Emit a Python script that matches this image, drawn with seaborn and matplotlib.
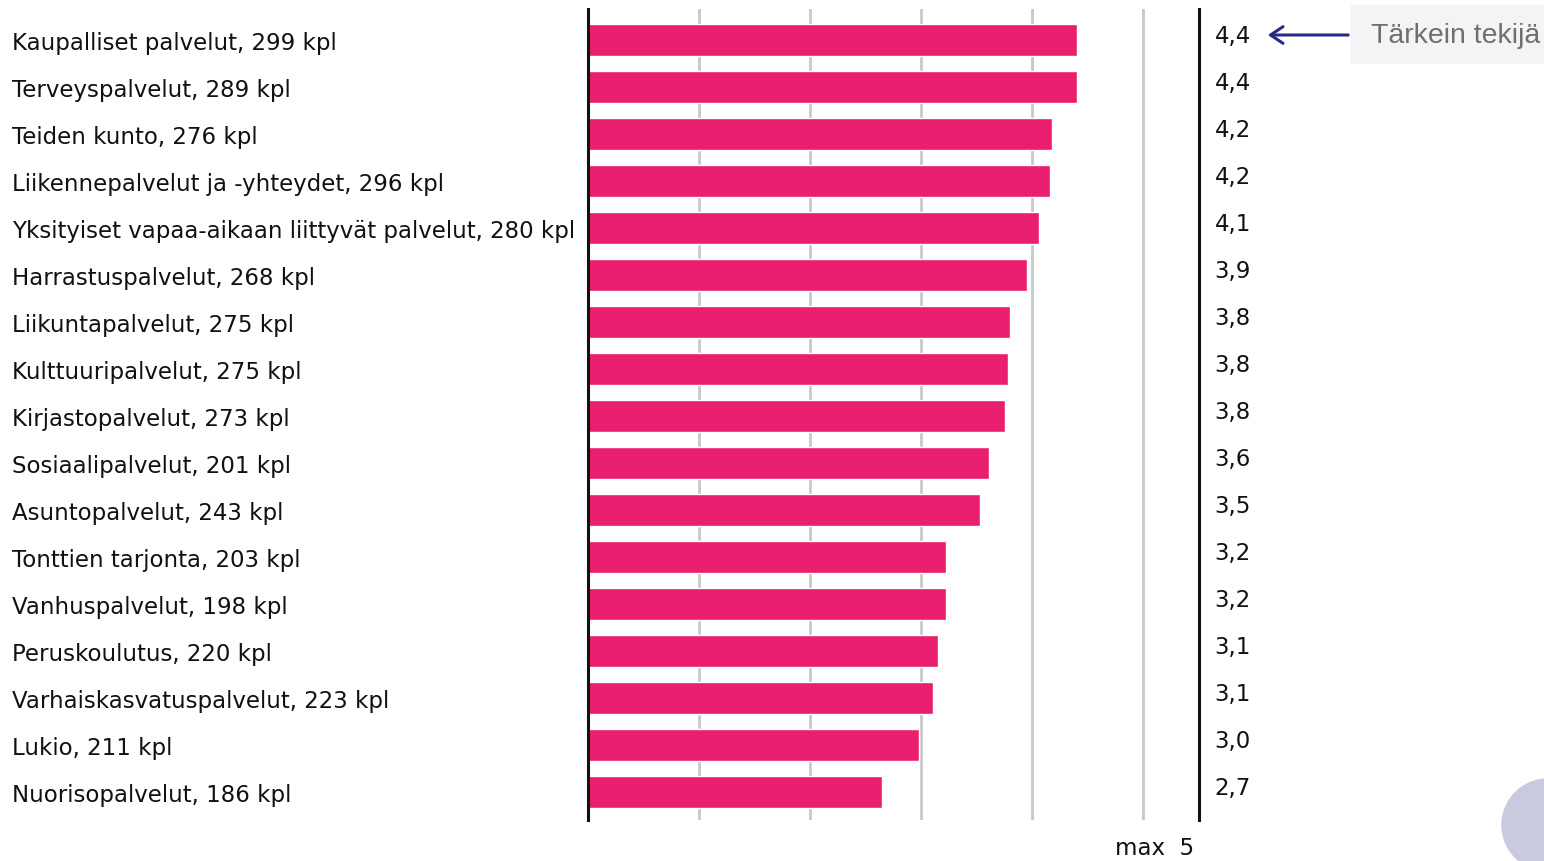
import matplotlib
matplotlib.use("Agg")
import matplotlib.pyplot as plt
import seaborn as sns
from matplotlib.patches import Rectangle, Ellipse, FancyArrowPatch

categories = [
    "Kaupalliset palvelut, 299 kpl",
    "Terveyspalvelut, 289 kpl",
    "Teiden kunto, 276 kpl",
    "Liikennepalvelut ja -yhteydet, 296 kpl",
    "Yksityiset vapaa-aikaan liittyvät palvelut, 280 kpl",
    "Harrastuspalvelut, 268 kpl",
    "Liikuntapalvelut, 275 kpl",
    "Kulttuuripalvelut, 275 kpl",
    "Kirjastopalvelut, 273 kpl",
    "Sosiaalipalvelut, 201 kpl",
    "Asuntopalvelut, 243 kpl",
    "Tonttien tarjonta, 203 kpl",
    "Vanhuspalvelut, 198 kpl",
    "Peruskoulutus, 220 kpl",
    "Varhaiskasvatuspalvelut, 223 kpl",
    "Lukio, 211 kpl",
    "Nuorisopalvelut, 186 kpl",
]
values = [4.40, 4.40, 4.18, 4.16, 4.06, 3.95, 3.80, 3.78, 3.75, 3.61, 3.53,
          3.22, 3.22, 3.15, 3.11, 2.98, 2.65]
value_labels = ["4,4", "4,4", "4,2", "4,2", "4,1", "3,9", "3,8", "3,8", "3,8",
                "3,6", "3,5", "3,2", "3,2", "3,1", "3,1", "3,0", "2,7"]
annotation_text = "Tärkein tekijä"
max_text = "max  5"

sns.set_theme(style="white")
plt.rcParams["font.family"] = ["DejaVu Sans"]

W, H = 1544, 862
fig = plt.figure(figsize=(W / 100, H / 100), dpi=100)

# decorative blob (behind everything)
fig.patches.append(Ellipse((1548 / W, 1 - 826 / H), 92 / W, 92 / H,
                           transform=fig.transFigure, color="#c9c9e0", zorder=0))

ax = fig.add_axes([588 / W, 1 - 821 / H, (1199 - 588) / W, (821 - 10) / H])
ax.patch.set_alpha(0)

sns.barplot(x=values, y=categories, orient="h", color="#e91e6f",
            saturation=1, width=0.68, ax=ax, zorder=2)

ax.set_xlim(0, 5.5)
ax.set_ylim(16.6, -0.66)
ax.set_xticks([1, 2, 3, 4, 5])
ax.set_xticklabels([])
ax.grid(axis="x", color="#c8c8c8", lw=2, zorder=0)
ax.grid(axis="y", visible=False)
ax.set_axisbelow(True)
ax.set_xlabel("")
ax.set_ylabel("")
ax.tick_params(axis="both", length=0)

for s in ["top", "bottom"]:
    ax.spines[s].set_visible(False)
for s in ["left", "right"]:
    ax.spines[s].set_visible(True)
    ax.spines[s].set_color("#111111")
    ax.spines[s].set_linewidth(2.2)
    ax.spines[s].set_zorder(5)

pad_pts = (588 - 12) * 72 / 100
ax.tick_params(axis="y", pad=pad_pts, labelsize=16.5, labelcolor="#111111")
for lab in ax.get_yticklabels():
    lab.set_ha("left")

for i, t in enumerate(value_labels):
    ax.text(5.64, i - 0.09, t, ha="left", va="center", fontsize=16.5,
            color="#111111", clip_on=False)

fig.text(1115 / W, 1 - 849 / H, max_text, ha="left", va="center",
         fontsize=16.5, color="#111111")

# annotation box
fig.patches.append(Rectangle((1351 / W, 1 - 64 / H), (W - 1351) / W, 58 / H,
                             transform=fig.transFigure, color="#f3f4f6",
                             zorder=1))
fig.text(1371 / W, 1 - 36 / H, annotation_text, ha="left", va="center",
         fontsize=20.5, color="#6f6f6f", family="Liberation Sans", zorder=2)
arrow = FancyArrowPatch((1351 / W, 1 - 36 / H), (1265 / W, 1 - 36 / H),
                        transform=fig.transFigure,
                        arrowstyle="->,head_length=9,head_width=6",
                        color="#2b2b85", lw=2.2, mutation_scale=1)
fig.patches.append(arrow)

fig.savefig("out.png", dpi=100)
